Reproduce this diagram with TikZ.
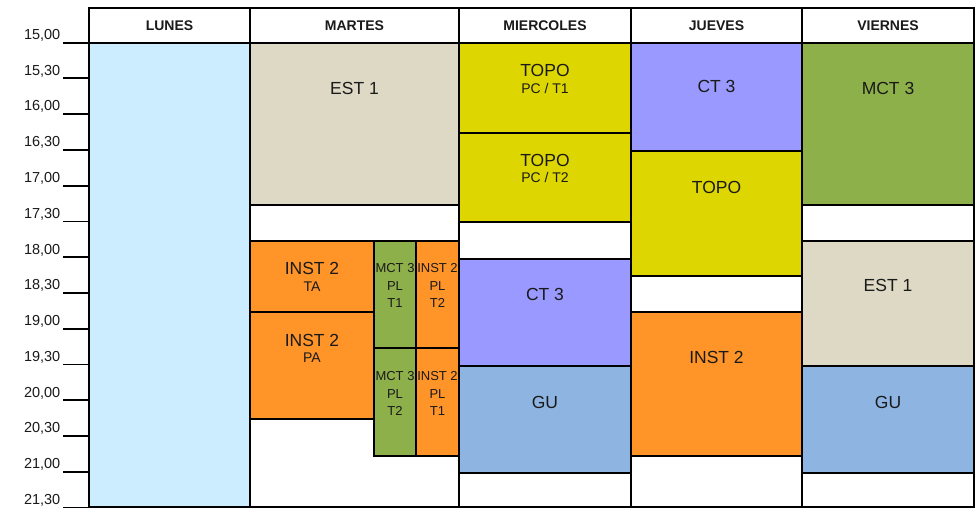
\documentclass[tikz,border=0pt]{standalone}
\usepackage{fontspec}
\setmainfont{Liberation Sans}
\definecolor{lunesc}{RGB}{204,236,255}
\definecolor{estc}{RGB}{221,217,196}
\definecolor{topoc}{RGB}{221,214,0}
\definecolor{ctc}{RGB}{153,153,255}
\definecolor{mctc}{RGB}{142,176,75}
\definecolor{instc}{RGB}{255,148,41}
\definecolor{guc}{RGB}{142,180,226}
\definecolor{txt}{RGB}{26,26,26}
\begin{document}
\begin{tikzpicture}[x=1pt,y=-1pt,line width=1.4pt,
  blk/.style={fill=#1,draw=black},
  big/.style={font=\fontsize{17.5}{20}\selectfont,anchor=base,text=txt,inner sep=0pt},
  sub/.style={font=\fontsize{14}{16}\selectfont,anchor=base,text=txt,inner sep=0pt},
  small/.style={font=\fontsize{13}{15}\selectfont,anchor=base,text=txt,inner sep=0pt},
  hdr/.style={font=\bfseries\fontsize{14}{16}\selectfont,anchor=base,text=txt,inner sep=0pt},
  tlab/.style={font=\fontsize{14.5}{16}\selectfont,anchor=base east,text=txt,inner sep=0pt}]
\useasboundingbox (0,0) rectangle (980,508);
\fill[white] (0,0) rectangle (980,508);
% time axis
\foreach \t [count=\k from 0] in {{15,00},{15,30},{16,00},{16,30},{17,00},{17,30},{18,00},{18,30},{19,00},{19,30},{20,00},{20,30},{21,00},{21,30}}{
  \pgfmathsetmacro{\yy}{42.7+35.75*\k}
  \draw[line width=1.9pt] (63,\yy) -- (89,\yy);
  \node[tlab] (t\k) at (61,\yy-3.2) {\t};
}
% header cells
\path[blk=white] (89,8) rectangle (250,43);
\path[blk=white] (250,8) rectangle (459,43);
\path[blk=white] (459,8) rectangle (631,43);
\path[blk=white] (631,8) rectangle (802,43);
\path[blk=white] (802,8) rectangle (974,43);
\node[hdr] (hlun) at (169.5,31) {LUNES};
\node[hdr] (hmar) at (354.5,31) {MARTES};
\node[hdr] (hmie) at (545,31) {MIERCOLES};
\node[hdr] (hjue) at (716.5,31) {JUEVES};
\node[hdr] (hvie) at (888,31) {VIERNES};
% column frames
\path[blk=lunesc] (89,43) rectangle (250,507);
\path[blk=white] (250,43) rectangle (459,507);
\path[blk=white] (459,43) rectangle (631,507);
\path[blk=white] (631,43) rectangle (802,507);
\path[blk=white] (802,43) rectangle (974,507);
% martes
\path[blk=estc] (250,43) rectangle (459,205);
\path[blk=instc] (250,241) rectangle (374,312);
\path[blk=instc] (250,312) rectangle (374,419);
\path[blk=mctc] (374,241) rectangle (416,348);
\path[blk=instc] (416,241) rectangle (459,348);
\path[blk=mctc] (374,348) rectangle (416,456);
\path[blk=instc] (416,348) rectangle (459,456);
% miercoles
\path[blk=topoc] (459,43) rectangle (631,133);
\path[blk=topoc] (459,133) rectangle (631,222);
\path[blk=ctc] (459,259) rectangle (631,366);
\path[blk=guc] (459,366) rectangle (631,473);
% jueves
\path[blk=ctc] (631,43) rectangle (802,151);
\path[blk=topoc] (631,151) rectangle (802,276);
\path[blk=instc] (631,312) rectangle (802,456);
% viernes
\path[blk=mctc] (802,43) rectangle (974,205);
\path[blk=estc] (802,241) rectangle (974,366);
\path[blk=guc] (802,366) rectangle (974,473);
% texts martes
\node[big] (mar1) at (354.5,94.3) {EST 1};
\node[big] (mar2) at (312,274.3) {INST 2};
\node[sub] (mar2s) at (312,291) {TA};
\node[big] (mar3) at (312,346.7) {INST 2};
\node[sub] (mar3s) at (312,362.3) {PA};
\node[small] (mar4a) at (395,272.7) {MCT 3};
\node[small] (mar4b) at (395,290) {PL};
\node[small] (mar4c) at (395,307.7) {T1};
\node[small] (mar5a) at (437.5,272.7) {INST 2};
\node[small] (mar5b) at (437.5,290) {PL};
\node[small] (mar5c) at (437.5,307.7) {T2};
\node[small] (mar6a) at (395,380) {MCT 3};
\node[small] (mar6b) at (395,398.3) {PL};
\node[small] (mar6c) at (395,415.7) {T2};
\node[small] (mar7a) at (437.5,380) {INST 2};
\node[small] (mar7b) at (437.5,398.3) {PL};
\node[small] (mar7c) at (437.5,415.7) {T1};
% texts miercoles
\node[big] (mie1) at (545,76.7) {TOPO};
\node[sub] (mie1s) at (545,93.3) {PC / T1};
\node[big] (mie2) at (545,166.7) {TOPO};
\node[sub] (mie2s) at (545,182.7) {PC / T2};
\node[big] (mie3) at (545,300.7) {CT 3};
\node[big] (mie4) at (545,408.3) {GU};
% texts jueves
\node[big] (jue1) at (716.5,92.7) {CT 3};
\node[big] (jue2) at (716.5,193.3) {TOPO};
\node[big] (jue3) at (716.5,363.3) {INST 2};
% texts viernes
\node[big] (vie1) at (888,94.5) {MCT 3};
\node[big] (vie2) at (888,291.7) {EST 1};
\node[big] (vie3) at (888,408.3) {GU};
\end{tikzpicture}
\end{document}
